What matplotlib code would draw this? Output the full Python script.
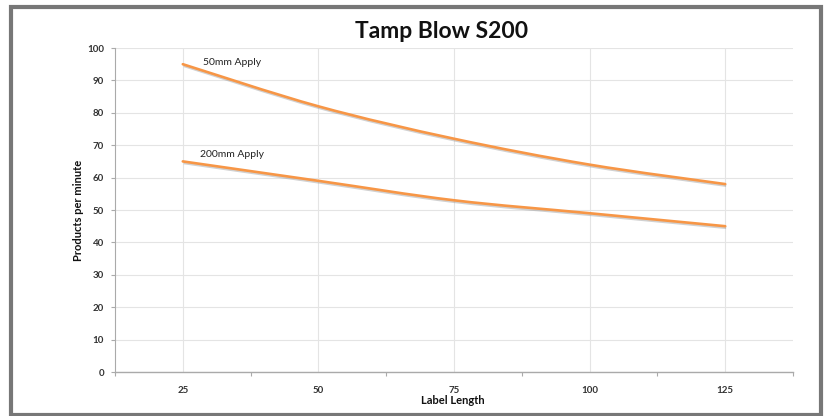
import matplotlib
matplotlib.use("Agg")
import matplotlib.pyplot as plt
from matplotlib.path import Path
from matplotlib.patches import PathPatch, Rectangle
import matplotlib.transforms as mtransforms
import numpy as np

categories = ["25", "50", "75", "100", "125"]
apply_50mm = [95, 82, 72, 64, 58]
apply_200mm = [65, 59, 53, 49, 45]
series_names = ["50mm Apply", "200mm Apply"]
y_ticks = list(range(0, 101, 10))

plt.rcParams['font.family'] = ['Lato', 'DejaVu Sans']

W, H = 827, 416
fig = plt.figure(figsize=(W / 100, H / 100), dpi=100)
fig.patch.set_facecolor("white")

ax = fig.add_axes([115 / W, (H - 372) / H, 678 / W, 324 / H])
ax.set_facecolor("white")


def smooth_path(xs, ys, t=1 / 6):
    xs = np.asarray(xs, float)
    ys = np.asarray(ys, float)
    n = len(xs)
    verts = [(xs[0], ys[0])]
    codes = [Path.MOVETO]
    for i in range(n - 1):
        p0 = (xs[max(i - 1, 0)], ys[max(i - 1, 0)])
        p1 = (xs[i], ys[i])
        p2 = (xs[i + 1], ys[i + 1])
        p3 = (xs[min(i + 2, n - 1)], ys[min(i + 2, n - 1)])
        c1 = (p1[0] + (p2[0] - p0[0]) * t, p1[1] + (p2[1] - p0[1]) * t)
        c2 = (p2[0] - (p3[0] - p1[0]) * t, p2[1] - (p3[1] - p1[1]) * t)
        verts += [c1, c2, p2]
        codes += [Path.CURVE4] * 3
    return Path(verts, codes)


xpos = np.arange(len(categories))
color = "#f79646"
shadow_tr = ax.transData + mtransforms.ScaledTranslation(1 / 100, -1.5 / 100, fig.dpi_scale_trans)
for vals in (apply_50mm, apply_200mm):
    shadow = PathPatch(smooth_path(xpos, vals), facecolor="none", edgecolor="#999999",
                       lw=2.0, alpha=0.45, zorder=2, transform=shadow_tr)
    ax.add_patch(shadow)
    ax.add_patch(PathPatch(smooth_path(xpos, vals), facecolor="none", edgecolor=color,
                           lw=1.9, capstyle="round", zorder=3))

ax.text(0.15, 95.4, series_names[0], fontsize=7.5, color="#222222", ha="left", va="center")
ax.text(0.13, 67.0, series_names[1], fontsize=7.5, color="#222222", ha="left", va="center")

ax.set_xlim(-0.5, len(categories) - 0.5)
ax.set_ylim(0, 100)
ax.set_xticks(xpos)
ax.set_xticklabels(categories, fontsize=7, fontweight="bold", color="#333333")
ax.set_xticks(np.arange(-0.5, len(categories), 1.0), minor=True)
ax.set_yticks(y_ticks)
ax.set_yticklabels([str(v) for v in y_ticks], fontsize=7, fontweight="bold", color="#333333")

ax.tick_params(axis="x", which="major", length=0, pad=10)
ax.tick_params(axis="x", which="minor", length=3, width=0.8, color="#aaaaaa", direction="out")
ax.tick_params(axis="y", which="major", length=3, width=0.8, color="#aaaaaa", direction="out", pad=5)

ax.grid(True, which="major", color="#e4e4e4", lw=0.8, zorder=0)
ax.set_axisbelow(True)
for s in ("top", "right"):
    ax.spines[s].set_visible(False)
ax.spines["left"].set_color("#aaaaaa")
ax.spines["bottom"].set_color("#aaaaaa")
ax.spines["left"].set_linewidth(0.8)
ax.spines["bottom"].set_linewidth(1.0)

fig.text(453 / W, 1 - 401 / H, "Label Length", fontsize=8, fontweight="bold",
         ha="center", va="center", color="#111111")
fig.text(78 / W, 1 - 210 / H, "Products per minute", fontsize=8, fontweight="bold",
         ha="center", va="center", rotation=90, color="#111111")
fig.text(442 / W, 1 - 32 / H, "Tamp Blow S200", fontsize=16.5, fontweight="bold",
         ha="center", va="center", color="#111111")

fig.add_artist(Rectangle((10.5 / W, 1 - 414.5 / H), 810 / W, 407.5 / H,
                         transform=fig.transFigure, fill=False, edgecolor="#777777", lw=3.0))

fig.savefig("out.png", dpi=100, facecolor="white")
